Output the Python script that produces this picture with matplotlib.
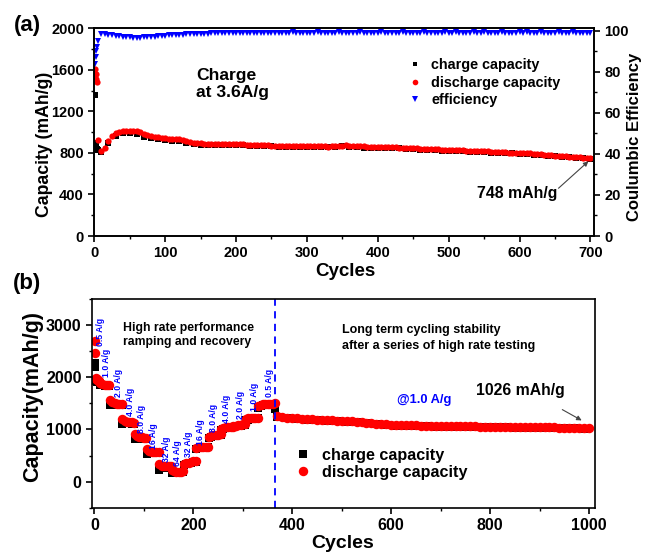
import numpy as np
import matplotlib
matplotlib.use("Agg")
import matplotlib.pyplot as plt
from matplotlib.ticker import MultipleLocator

plt.rcParams["font.family"] = ["Liberation Sans", "DejaVu Sans"]
plt.rcParams["font.weight"] = "bold"
plt.rcParams["axes.linewidth"] = 1.2

# ---------------- panel (a): 3.6 A/g cycling ----------------
# first cycles read one by one
early_cycles_a = [1, 2, 3, 4, 5]
early_discharge_a = [1610, 1560, 1510, 1480, 920]
early_charge_a = [1360, 900, 860, 840, 830]
early_eff = [84, 87, 90, 92, 95]

# discharge, every 5 cycles from 10 to 700
cycles_a = np.arange(10, 701, 5)
discharge_a = [
    815, 850, 910, 960, 990, 1005, 1010, 1012, 1012, 1010,
    1008, 1005, 985, 970, 962, 957, 952, 947, 943, 938,
    935, 932, 933, 928, 918, 908, 900, 895, 892, 890,
    889, 888, 888, 887, 887, 886, 886, 885, 885, 884,
    882, 880, 878, 876, 874, 873, 872, 872, 871, 870,
    869, 868, 867, 866, 866, 865, 865, 864, 864, 863,
    863, 862, 862, 862, 861, 862, 864, 866, 869, 872,
    870, 866, 864, 863, 862, 861, 860, 860, 859, 858,
    858, 858, 857, 855, 852, 850, 848, 846, 845, 844,
    842, 840, 839, 837, 835, 834, 832, 831, 830, 828,
    827, 826, 824, 822, 821, 820, 818, 817, 815, 814,
    812, 811, 809, 808, 806, 804, 802, 801, 800, 798,
    797, 795, 792, 790, 787, 784, 781, 778, 775, 772,
    770, 767, 765, 762, 760, 757, 754, 752, 749,
]
efficiency = [
    98.3, 98.3, 98.1, 97.8, 97.5, 97.3, 97.1, 96.9, 96.8, 96.7,
    96.7, 96.7, 96.8, 96.9, 97.0, 97.2, 97.4, 97.5, 97.6, 97.7,
    97.8, 97.9, 98.0, 98.1, 98.2, 98.3, 98.4, 98.5, 98.5, 98.6,
    98.6, 98.7, 98.7, 98.8, 98.8, 98.8, 98.9, 98.9, 98.9, 99.0,
    99.0, 99.0, 99.0, 99.1, 99.0, 99.1, 99.1, 99.0, 99.1, 99.1,
    99.1, 99.0, 99.1, 99.1, 99.2, 99.1, 99.1, 99.0, 99.1, 99.1,
    99.1, 99.2, 99.1, 99.1, 99.0, 99.1, 99.1, 99.2, 99.1, 99.1,
    99.1, 99.0, 99.1, 99.2, 99.1, 99.1, 99.1, 99.0, 99.1, 99.2,
    99.1, 99.1, 99.0, 99.1, 99.1, 99.2, 99.1, 99.1, 99.1, 99.0,
    99.1, 99.2, 99.1, 99.1, 99.0, 99.1, 99.1, 99.2, 99.1, 99.1,
    99.2, 99.1, 99.1, 99.0, 99.1, 99.2, 99.1, 99.1, 99.2, 99.1,
    99.1, 99.0, 99.1, 99.2, 99.1, 99.1, 99.0, 99.1, 99.2, 99.1,
    99.2, 99.1, 99.0, 99.1, 99.2, 99.1, 99.0, 99.1, 99.1, 99.2,
    99.1, 99.0, 99.1, 99.2, 99.1, 99.0, 99.1, 99.1, 99.0,
]
# charge, every 10 cycles from 10 to 700
charge_cycles_a = np.arange(10, 701, 10)
charge_a = [
    805, 895, 965, 990, 990, 985, 950, 940, 930, 920,
    915, 912, 900, 885, 880, 880, 879, 878, 877, 877,
    874, 870, 866, 864, 862, 860, 858, 857, 856, 856,
    855, 854, 854, 858, 862, 856, 854, 852, 851, 850,
    849, 848, 843, 839, 836, 832, 829, 826, 823, 821,
    819, 816, 813, 810, 807, 804, 801, 798, 795, 792,
    789, 784, 779, 774, 768, 763, 758, 752, 747, 742,
]

# ---------------- panel (b): rate test + long cycling ----------------
rate_labels = ["0.5 A/g", "1.0 A/g", "2.0 A/g", "4.0 A/g", "8.0 A/g", "16 A/g",
               "32 A/g", "64 A/g", "32 A/g", "16 A/g", "8.0 A/g", "4.0 A/g",
               "2.0 A/g", "1.0 A/g", "0.5 A/g"]
step_first = [1, 11, 31, 56, 81, 106, 131, 156, 181, 206, 231, 256, 281, 306, 331]
step_last = [10, 30, 55, 80, 105, 130, 155, 180, 205, 230, 255, 280, 305, 330, 365]
step_discharge = [
    [2690, 2470, 1990, 1970, 1960, 1950, 1945, 1940, 1935, 1930],
    [1890, 1870, 1860, 1850, 1845],
    [1570, 1520, 1505, 1495, 1490, 1485],
    [1195, 1155, 1145, 1140, 1135, 1130],
    [905, 865, 855, 850, 845, 845],
    [630, 580, 570, 565, 560, 560],
    [340, 300, 295, 290, 290, 290],
    [215, 195, 190, 190, 190, 195],
    [330, 350, 365, 380, 390, 400],
    [640, 655, 660, 665, 665, 670],
    [860, 880, 890, 895, 900, 905],
    [1010, 1030, 1040, 1045, 1050, 1055],
    [1060, 1075, 1085, 1090, 1095, 1100],
    [1195, 1210, 1215, 1220, 1220, 1225],
    [1450, 1475, 1485, 1490, 1490, 1495, 1495, 1500],
]
step_charge = [
    [2280, 2200, 1940, 1930, 1920, 1915, 1910, 1905, 1900, 1900],
    [1860, 1845, 1835, 1830, 1825],
    [1470, 1480, 1475, 1470, 1465, 1460],
    [1110, 1120, 1120, 1115, 1110, 1110],
    [810, 830, 830, 825, 825, 820],
    [520, 545, 545, 540, 540, 540],
    [230, 265, 270, 270, 270, 270],
    [160, 170, 170, 170, 175, 180],
    [320, 335, 350, 365, 375, 385],
    [620, 635, 645, 650, 650, 655],
    [840, 860, 870, 880, 885, 890],
    [990, 1010, 1025, 1030, 1035, 1040],
    [1040, 1060, 1070, 1075, 1080, 1085],
    [1175, 1190, 1200, 1205, 1205, 1210],
    [1420, 1450, 1465, 1470, 1475, 1475, 1460, 1390],
]
long_cycles = np.arange(370, 1001, 10)
long_discharge = [
    1250, 1235, 1225, 1215, 1210, 1205, 1200, 1195, 1190, 1185,
    1180, 1175, 1170, 1165, 1160, 1155, 1150, 1140, 1130, 1120,
    1110, 1100, 1095, 1090, 1085, 1082, 1080, 1078, 1076, 1074,
    1072, 1070, 1068, 1066, 1065, 1063, 1062, 1060, 1060, 1058,
    1057, 1056, 1055, 1054, 1053, 1052, 1051, 1050, 1049, 1048,
    1047, 1046, 1045, 1044, 1042, 1040, 1038, 1036, 1034, 1032,
    1030, 1029, 1028, 1026,
]
long_charge_cycles = np.arange(370, 1000, 20)
long_charge = [
    1235, 1212, 1198, 1188, 1178, 1168, 1158, 1148, 1138, 1118,
    1098, 1083, 1073, 1068, 1064, 1060, 1056, 1053, 1050, 1048,
    1045, 1043, 1041, 1039, 1037, 1035, 1033, 1030, 1026, 1022,
    1018, 1016,
]
# rate label anchors (cycle, capacity at bottom of text)
label_cycle = [12, 24, 49, 73, 96, 120, 145, 168, 191, 214, 240, 267, 296, 323, 354]
label_cap = [2590, 2000, 1630, 1265, 940, 632, 373, 290, 470, 700, 945, 1130, 1200, 1360, 1630]

W, H = 645, 552
fig = plt.figure(figsize=(W / 100, H / 100), dpi=100)


def px_axes(left, top, right, bottom):
    return fig.add_axes([left / W, 1 - bottom / H, (right - left) / W, (bottom - top) / H])


def style_ticks(ax, size):
    ax.tick_params(which="major", direction="out", length=4, width=1.2, labelsize=size)
    ax.tick_params(which="minor", direction="out", length=2.5, width=1.0)


# ---- (a)
ax_a = px_axes(94.3, 28.3, 594, 236)
ax_a.plot(np.r_[early_cycles_a, charge_cycles_a], np.r_[early_charge_a, charge_a],
          "s", color="black", ms=3.8, mew=0, label="charge capacity")
ax_a.plot(np.r_[early_cycles_a, cycles_a], np.r_[early_discharge_a, discharge_a],
          "o", color="red", ms=4.5, mew=0, label="discharge capacity")
ax_a.set_xlim(0, 705)
ax_a.set_ylim(0, 2000)
ax_a.xaxis.set_major_locator(MultipleLocator(100))
ax_a.xaxis.set_minor_locator(MultipleLocator(50))
ax_a.yaxis.set_major_locator(MultipleLocator(400))
ax_a.yaxis.set_minor_locator(MultipleLocator(200))
style_ticks(ax_a, 10.5)

ax_e = ax_a.twinx()
ax_e.plot(np.r_[early_cycles_a, cycles_a], np.r_[early_eff, efficiency],
          "v", color="blue", ms=4.2, mew=0, label="efficiency")
ax_e.set_ylim(0, 101.2)
ax_e.yaxis.set_major_locator(MultipleLocator(20))
ax_e.yaxis.set_minor_locator(MultipleLocator(10))
style_ticks(ax_e, 10.5)

handles = ax_a.get_lines() + ax_e.get_lines()
ax_e.legend(handles, [h.get_label() for h in handles], loc="upper left",
            bbox_to_anchor=(408 / W, 1 - 58.5 / H), bbox_transform=fig.transFigure,
            frameon=False, fontsize=10.4, handlelength=1.0, handletextpad=0.6,
            labelspacing=0.22, borderpad=0, borderaxespad=0, markerscale=0.9)

ax_a.text(144, 1462, "Charge\nat 3.6A/g", fontsize=12.6, ha="left", va="center",
          linespacing=1.2)
ax_a.text(596, 410, "748 mAh/g", fontsize=11.4, ha="center", va="center")
ax_a.annotate("", xy=(700, 737), xytext=(652, 442),
              arrowprops=dict(arrowstyle="-|>", color="#444444", lw=0.8, mutation_scale=7))

fig.text(27 / W, 1 - 25 / H, "(a)", fontsize=16, ha="center", va="center")
fig.text(45 / W, 1 - 144 / H, "Capacity (mAh/g)", fontsize=12.7, rotation=90,
         ha="center", va="center")
fig.text(635 / W, 1 - 137 / H, "Coulumbic Efficiency", fontsize=12, rotation=90,
         ha="center", va="center")
fig.text(345 / W, 1 - 272 / H, "Cycles", fontsize=13.5, ha="center", va="center")

# ---- (b)
ax_b = px_axes(92, 299, 595, 507.7)
rate_cyc = np.concatenate([np.linspace(f, l, len(v)) for f, l, v in
                           zip(step_first, step_last, step_discharge)])
rate_cyc_c = np.concatenate([np.linspace(f, l, len(v)) for f, l, v in
                             zip(step_first, step_last, step_charge)])
ax_b.plot(np.r_[rate_cyc_c, long_charge_cycles], np.r_[np.concatenate(step_charge), long_charge],
          "s", color="black", ms=6, mew=0, label="charge capacity")
ax_b.plot(np.r_[rate_cyc, long_cycles], np.r_[np.concatenate(step_discharge), long_discharge],
          "o", color="red", ms=6.8, mew=0, label="discharge capacity")
ax_b.axvline(364, color="blue", lw=1.3, ls=(0, (4, 3)))
ax_b.set_xlim(-5, 1012)
ax_b.set_ylim(-500, 3500)
ax_b.xaxis.set_major_locator(MultipleLocator(200))
ax_b.xaxis.set_minor_locator(MultipleLocator(100))
ax_b.yaxis.set_major_locator(MultipleLocator(1000))
ax_b.yaxis.set_minor_locator(MultipleLocator(500))
style_ticks(ax_b, 11.5)

for txt, cx, cy in zip(rate_labels, label_cycle, label_cap):
    ax_b.text(cx, cy, txt, rotation=90, ha="center", va="bottom", fontsize=6.2,
              color="blue")

ax_b.text(58, 2810, "High rate performance\nramping and recovery", fontsize=8.8,
          ha="left", va="center", linespacing=1.2)
ax_b.text(500, 2747, "Long term cycling stability\nafter a series of high rate testing",
          fontsize=9, ha="left", va="center", linespacing=1.45)
ax_b.text(667, 1567, "@1.0 A/g", fontsize=9.3, color="blue", ha="center", va="center")
ax_b.text(861, 1741, "1026 mAh/g", fontsize=11.3, ha="center", va="center")
ax_b.annotate("", xy=(990, 1147), xytext=(941, 1406),
              arrowprops=dict(arrowstyle="-|>", color="#444444", lw=0.8, mutation_scale=7))

ax_b.legend(loc="upper left", bbox_to_anchor=(295 / W, 1 - 448 / H),
            bbox_transform=fig.transFigure, frameon=False, fontsize=11.6,
            handlelength=1.0, handletextpad=0.7, labelspacing=0.1,
            borderpad=0, borderaxespad=0)

fig.text(27 / W, 1 - 284 / H, "(b)", fontsize=16, ha="center", va="center")
fig.text(33 / W, 1 - 396 / H, "Capacity(mAh/g)", fontsize=15.5, rotation=90,
         ha="center", va="center")
fig.text(343 / W, 1 - 543 / H, "Cycles", fontsize=14, ha="center", va="center")

fig.savefig("out.png", dpi=100)
